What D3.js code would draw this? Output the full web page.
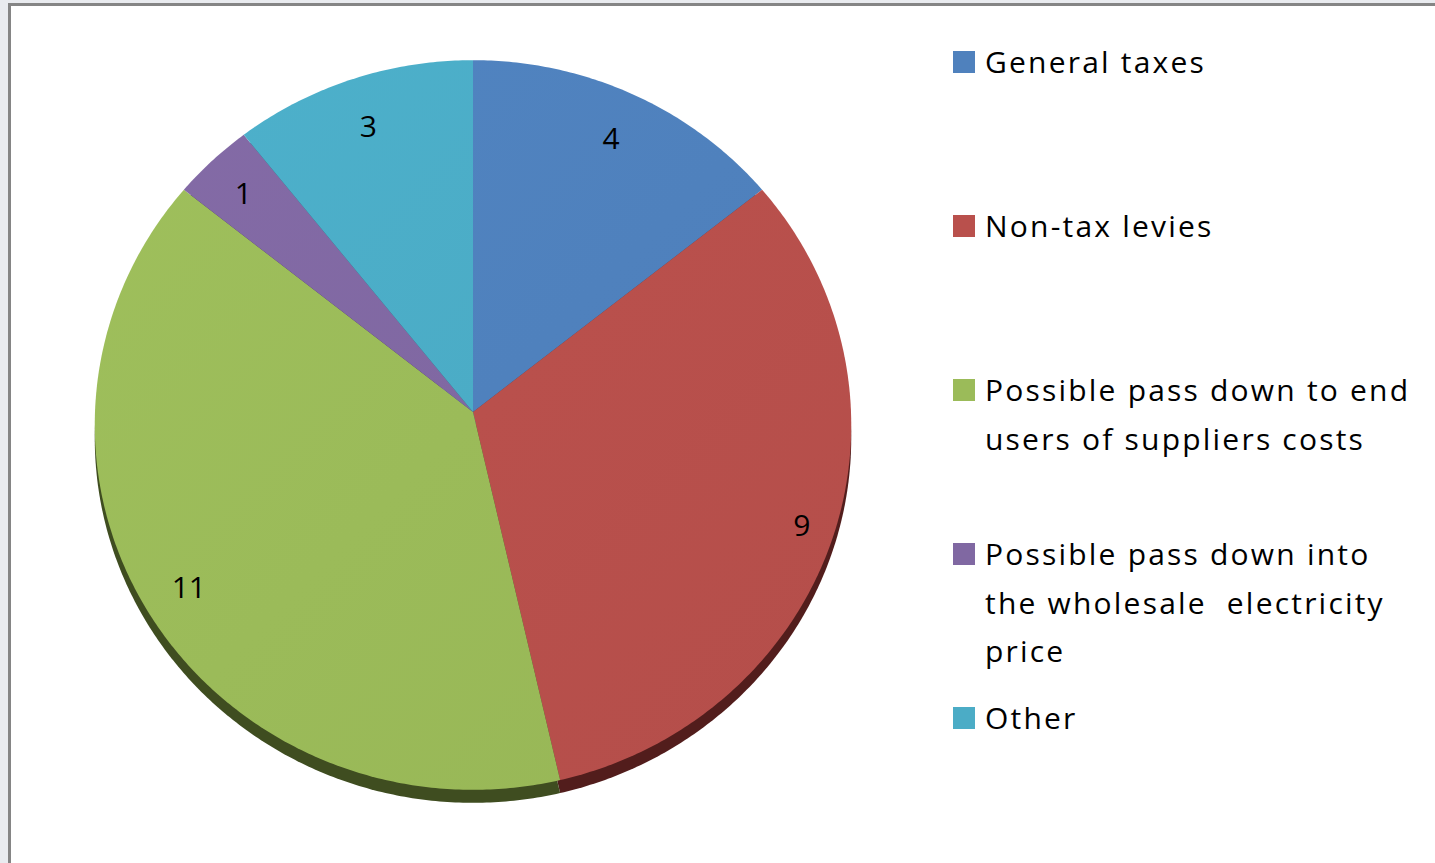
<!DOCTYPE html>
<html>
<head>
<meta charset="utf-8">
<script src="https://cdn.jsdelivr.net/npm/d3@7/dist/d3.min.js"></script>
<style>
  html, body { margin: 0; padding: 0; background: #ffffff; }
  svg { display: block; }
  text { font-family: "Open Sans", Lato, sans-serif; fill: #000; white-space: pre; }
</style>
</head>
<body>
<svg id="chart" width="1435" height="863"></svg>
<script>
// Share of responses by category
const categories = [
  "General taxes",
  "Non-tax levies",
  "Possible pass down to end users of suppliers costs",
  "Possible pass down into the wholesale  electricity price",
  "Other"
];
const values = [4, 9, 11, 1, 3];
const legendLines = [
  ["General taxes"],
  ["Non-tax levies"],
  ["Possible pass down to end", "users of suppliers costs"],
  ["Possible pass down into", "the wholesale  electricity", "price"],
  ["Other"]
];
const sliceColors = ["#4f81bd", "#b9504c", "#9bbb59", "#8068a2", "#4bacc6"];
const sideColors  = ["#2c4a70", "#521d1c", "#3f4d20", "#3f2f55", "#24606e"];

const W = 1435, H = 863;
const svg = d3.select("#chart");

// page backdrop and framed panel
svg.append("rect").attr("width", W).attr("height", H).attr("fill", "#e9ebef");
svg.append("rect").attr("x", 10).attr("y", 5).attr("width", W - 10).attr("height", H - 5).attr("fill", "#ffffff");
svg.append("path")
  .attr("d", `M${W},4.5 H9.5 V${H}`)
  .attr("fill", "none").attr("stroke", "#858585").attr("stroke-width", 3);

// pie geometry: a disc tilted slightly away from the viewer
const cx = 473, cy = 412;
const A = 378;            // horizontal half-width of the disc
const tiltCos = 0.964;    // vertical foreshortening
const k = 0.0356;         // perspective strength
const depth = 13;         // visible thickness of the disc edge

function project(u, w) {
  const z = 1 - k * w;
  return [cx + A * u / z, cy + A * tiltCos * w / z];
}
function polar(angle, r) {
  return project(r * Math.sin(angle), -r * Math.cos(angle));
}

const pie = d3.pie().sort(null).value(d => d)(values);
const line = d3.line().curve(d3.curveLinearClosed);

function slicePoints(s) {
  const pts = [polar(0, 0)];
  const n = Math.max(4, Math.ceil((s.endAngle - s.startAngle) / 0.01));
  for (let i = 0; i <= n; i++) {
    const a = s.startAngle + (s.endAngle - s.startAngle) * i / n;
    pts.push(polar(a, 1));
  }
  return pts;
}

// edge of the disc, drawn beneath the faces
const sideG = svg.append("g").attr("transform", `translate(0,${depth})`);
sideG.selectAll("path").data(pie).join("path")
  .attr("d", d => line(slicePoints(d)))
  .attr("fill", (d, i) => sideColors[i]);

// gentle lighting across each face
const defs = svg.append("defs");
sliceColors.forEach((c, i) => {
  const g = defs.append("linearGradient").attr("id", "shade" + i)
    .attr("gradientUnits", "userSpaceOnUse")
    .attr("x1", cx - A).attr("y1", cy - A).attr("x2", cx + A).attr("y2", cy + A);
  g.append("stop").attr("offset", "0%").attr("stop-color", d3.color(c).brighter(0.08));
  g.append("stop").attr("offset", "100%").attr("stop-color", d3.color(c).darker(0.08));
});

svg.append("g").selectAll("path").data(pie).join("path")
  .attr("d", d => line(slicePoints(d)))
  .attr("fill", (d, i) => `url(#shade${i})`);

// value labels, placed just inside the rim (label box kept clear of the edge)
const labelSize = 30;
const labelG = svg.append("g");
pie.forEach((s, i) => {
  const mid = (s.startAngle + s.endAngle) / 2;
  const txt = String(values[i]);
  const bw = txt.length * labelSize * 0.3, bh = labelSize * 1.3;
  const extent = Math.abs(Math.sin(mid)) * bw + Math.abs(Math.cos(mid)) * bh;
  const r = 1 - (12 + extent) / A;
  const [x, y] = polar(mid, r);
  labelG.append("text")
    .attr("x", x).attr("y", y + 2)
    .attr("text-anchor", "middle")
    .attr("dominant-baseline", "central")
    .attr("font-size", labelSize)
    .text(txt);
});

// legend
const legendX = 953, legendTop = 51, legendStep = 164, swatch = 22, lineGap = 48.5;
const legend = svg.append("g");
categories.forEach((c, i) => {
  const y0 = legendTop + i * legendStep;
  legend.append("rect")
    .attr("x", legendX).attr("y", y0).attr("width", swatch).attr("height", swatch)
    .attr("fill", sliceColors[i]);
  legendLines[i].forEach((t, j) => {
    legend.append("text")
      .attr("x", legendX + 32).attr("y", y0 + swatch + j * lineGap)
      .attr("font-size", 30)
      .attr("letter-spacing", 2.2)
      .text(t);
  });
});
</script>
</body>
</html>
